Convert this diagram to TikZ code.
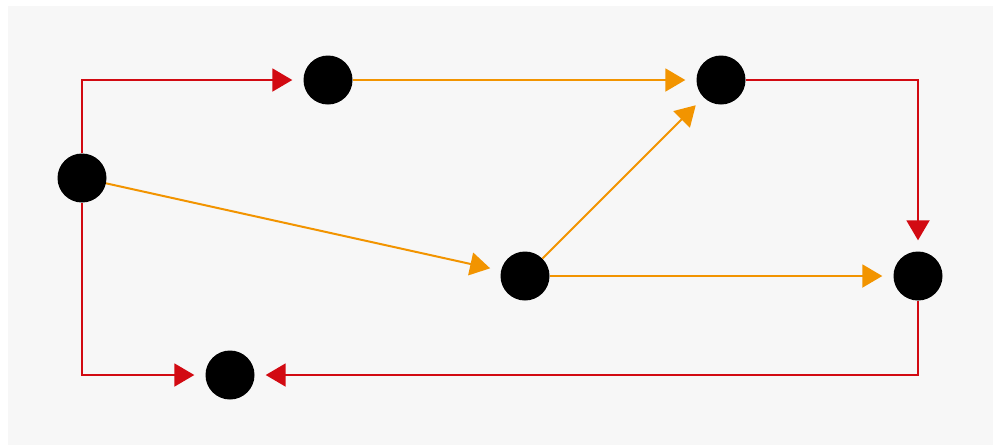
\documentclass[tikz,border=0pt]{standalone}
\usepackage{tikz}
\usetikzlibrary{arrows.meta}
\usetikzlibrary{positioning}
\definecolor{bgray}{RGB}{247,247,247}
\definecolor{linkred}{RGB}{210,10,18}
\definecolor{linkorange}{RGB}{242,148,0}

\begin{document}
\begin{tikzpicture}[x=1pt, y=-1pt,
				vertex/.style={circle, fill=black, minimum size=49pt, inner sep=0pt},
				link/.style={line width=2pt, -{Triangle[length=20pt, width=23pt]}, shorten >=11pt},
				redlink/.style={link, draw=linkred},
				orangelink/.style={link, draw=linkorange}]
				\useasboundingbox (0, 0) rectangle (993, 445);
				\fill[bgray] (8, 6) rectangle (993, 445);
				
				\node[vertex](node1) at (82, 178) {};
				\node[vertex](node2) at (328, 80) {};
				\node[vertex](node3) at (721, 80) {};
				\node[vertex](node4) at (525, 276) {};
				\node[vertex](node5) at (918, 276) {};
				\node[vertex](node6) at (230, 375) {};
				
				\draw [redlink] (node1.north) |- (node2);
				\draw [redlink] (node1.south) |- (node6);
				\draw [redlink] (node3.east) -| (node5);
				\draw [redlink] (node5.south) |- (node6);
				
				\draw [orangelink] (node2) -- (node3);
				\draw [orangelink] (node1) -- (node4);
				\draw [orangelink] (node4) -- (node3);
				\draw [orangelink] (node4) -- (node5);
			\end{tikzpicture}
\end{document}
